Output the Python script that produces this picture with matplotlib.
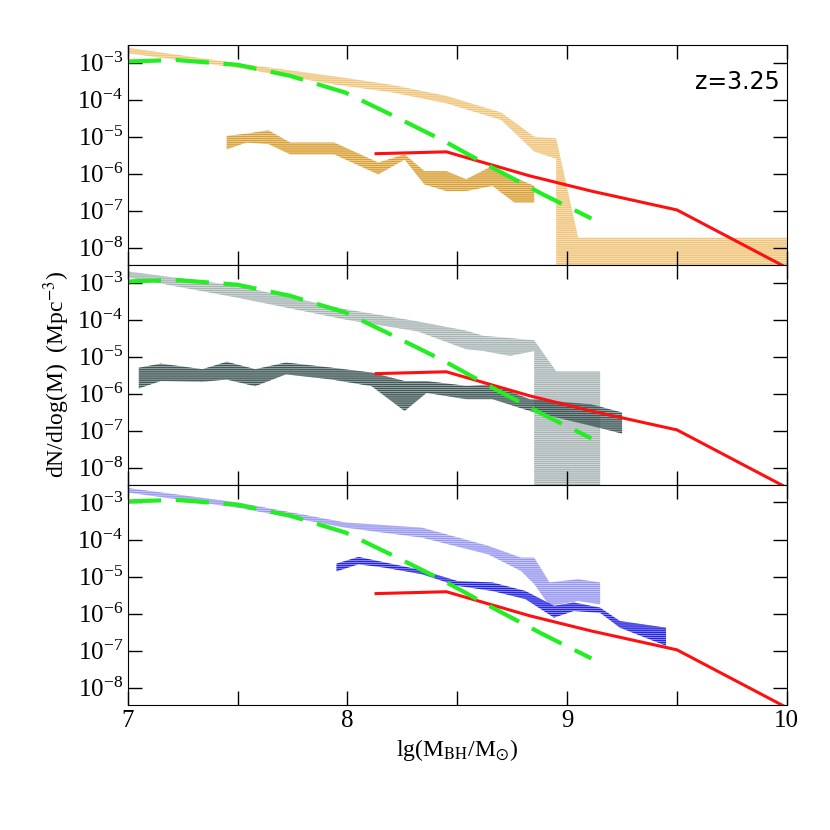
import numpy as np
import matplotlib
matplotlib.use("Agg")
import matplotlib.pyplot as plt
from matplotlib.ticker import LogLocator, FixedLocator, NullFormatter

plt.rcParams['font.family'] = ['Liberation Serif', 'DejaVu Serif']
plt.rcParams['mathtext.fontset'] = 'stix'
plt.rcParams['hatch.linewidth'] = 1.0

# model curves (log10 of dN/dlogM), same in every panel
red_x = [8.13, 8.45, 8.83, 9.11, 9.50, 10.0]
red_y = [-5.46, -5.41, -6.06, -6.47, -6.98, -8.54]
green_x = [7.0, 7.22, 7.5, 7.74, 7.99, 8.21, 8.44, 8.66, 8.89, 9.11]
green_y = [-2.97, -2.93, -3.06, -3.36, -3.81, -4.44, -5.12, -5.84, -6.56, -7.21]

# panel 1 (orange)
o_lt_x = [7.0, 7.5, 7.95, 8.2, 8.45, 8.7, 8.85, 8.95, 8.95, 9.05, 10.0]
o_lt_hi = [-2.6, -3.02, -3.38, -3.6, -3.9, -4.35, -5.0, -5.05, -5.05, -7.73, -7.73]
o_lt_lo = [-2.75, -3.14, -3.6, -3.8, -4.1, -4.55, -5.4, -5.6, -8.5, -8.5, -8.5]
o_dk_x = [7.45, 7.54, 7.64, 7.74, 7.94, 8.14, 8.26, 8.35, 8.45, 8.54, 8.66, 8.76, 8.85]
o_dk_hi = [-4.98, -4.92, -4.83, -5.16, -5.16, -5.70, -5.48, -5.93, -5.93, -6.15, -5.79, -6.1, -6.33]
o_dk_lo = [-5.34, -5.16, -5.20, -5.48, -5.48, -6.02, -5.62, -6.29, -6.47, -6.47, -6.33, -6.78, -6.78]

# panel 2 (grey)
g_lt_x = [7.0, 7.5, 7.99, 8.32, 8.54, 8.62, 8.74, 8.85, 8.85, 8.95, 9.15]
g_lt_hi = [-2.70, -3.09, -3.72, -4.05, -4.3, -4.44, -4.5, -4.56, -4.56, -5.4, -5.4]
g_lt_lo = [-2.86, -3.41, -4.0, -4.32, -4.8, -4.85, -4.98, -4.85, -8.5, -8.5, -8.5]
g_dk_x = [7.05, 7.15, 7.34, 7.45, 7.58, 7.72, 7.93, 8.11, 8.26, 8.36, 8.54, 8.66, 8.83, 9.11, 9.25]
g_dk_hi = [-5.30, -5.19, -5.34, -5.14, -5.34, -5.16, -5.30, -5.43, -5.66, -5.66, -5.79, -5.75, -6.15, -6.29, -6.51]
g_dk_lo = [-5.86, -5.66, -5.68, -5.62, -5.80, -5.48, -5.62, -5.80, -6.47, -5.98, -6.15, -6.15, -6.47, -6.87, -7.08]

# panel 3 (blue)
b_lt_x = [7.0, 7.5, 7.99, 8.34, 8.64, 8.79, 8.85, 8.92, 9.05, 9.15]
b_lt_hi = [-2.61, -3.0, -3.54, -3.68, -4.17, -4.49, -4.49, -5.16, -5.07, -5.16]
b_lt_lo = [-2.73, -3.14, -3.68, -3.95, -4.40, -4.85, -5.2, -5.79, -5.66, -5.75]
b_dk_x = [7.95, 8.05, 8.17, 8.34, 8.5, 8.66, 8.81, 8.94, 9.03, 9.15, 9.24, 9.45]
b_dk_hi = [-4.65, -4.47, -4.62, -4.83, -5.12, -5.16, -5.39, -5.79, -5.70, -5.84, -6.2, -6.38]
b_dk_lo = [-4.86, -4.67, -4.76, -4.94, -5.25, -5.39, -5.61, -6.11, -5.93, -5.98, -6.38, -6.87]

panels = [
    (o_lt_x, o_lt_lo, o_lt_hi, '#f0c47a', o_dk_x, o_dk_lo, o_dk_hi, '#d9a035'),
    (g_lt_x, g_lt_lo, g_lt_hi, '#a9b5b5', g_dk_x, g_dk_lo, g_dk_hi, '#405858'),
    (b_lt_x, b_lt_lo, b_lt_hi, '#9898f0', b_dk_x, b_dk_lo, b_dk_hi, '#2424e0'),
]

fig = plt.figure(figsize=(8.3, 8.3), dpi=100)
left, right, top, bottom = 0.154, 0.948, 0.946, 0.151
h = (top - bottom) / 3
axes = []
for i, (lx, llo, lhi, lc, dx, dlo, dhi, dc) in enumerate(panels):
    ax = fig.add_axes([left, top - (i + 1) * h, right - left, h])
    axes.append(ax)
    for x, lo, hi, c in [(lx, llo, lhi, lc), (dx, dlo, dhi, dc)]:
        ax.fill_between(x, 10.0 ** np.array(lo), 10.0 ** np.array(hi),
                        facecolor='none', edgecolor=c, hatch='-' * 8, linewidth=0)
        ax.fill_between(x, 10.0 ** np.array(lo), 10.0 ** np.array(hi),
                        facecolor=c, alpha=0.35, linewidth=0)
    ax.plot(red_x, 10.0 ** np.array(red_y), color='#ff1010', lw=2.2)
    ax.plot(green_x, 10.0 ** np.array(green_y), color='#22ee22', lw=3, dashes=(8, 3.5))
    ax.set_yscale('log')
    ax.set_xlim(7, 10)
    ax.set_ylim(10 ** -8.46, 10 ** -2.52)
    ax.yaxis.set_major_locator(FixedLocator([1e-8, 1e-7, 1e-6, 1e-5, 1e-4, 1e-3]))
    ax.yaxis.set_minor_locator(LogLocator(base=10, subs=np.arange(2, 10)))
    ax.yaxis.set_minor_formatter(NullFormatter())
    ax.set_xticks([7, 8, 9, 10])
    ax.set_xticks(np.arange(7, 10.01, 0.5), minor=True)
    ax.tick_params(which='both', direction='in', top=True, right=True, labelsize=18)
    ax.tick_params(which='major', length=10, width=1)
    ax.tick_params(which='minor', length=5, width=1)
    ax.tick_params(axis='x', which='minor', length=10)
    if i < 2:
        ax.set_xticklabels([])

axes[0].text(9.97, 10 ** -3.7, 'z=3.25', ha='right', fontsize=17, family='DejaVu Sans')
axes[2].set_xlabel(r'lg(M$_{\rm BH}$/M$_{\odot}$)', fontsize=17)
axes[1].set_ylabel(r'dN/dlog(M)  (Mpc$^{-3}$)', fontsize=17)

fig.savefig('out.png', dpi=100)
